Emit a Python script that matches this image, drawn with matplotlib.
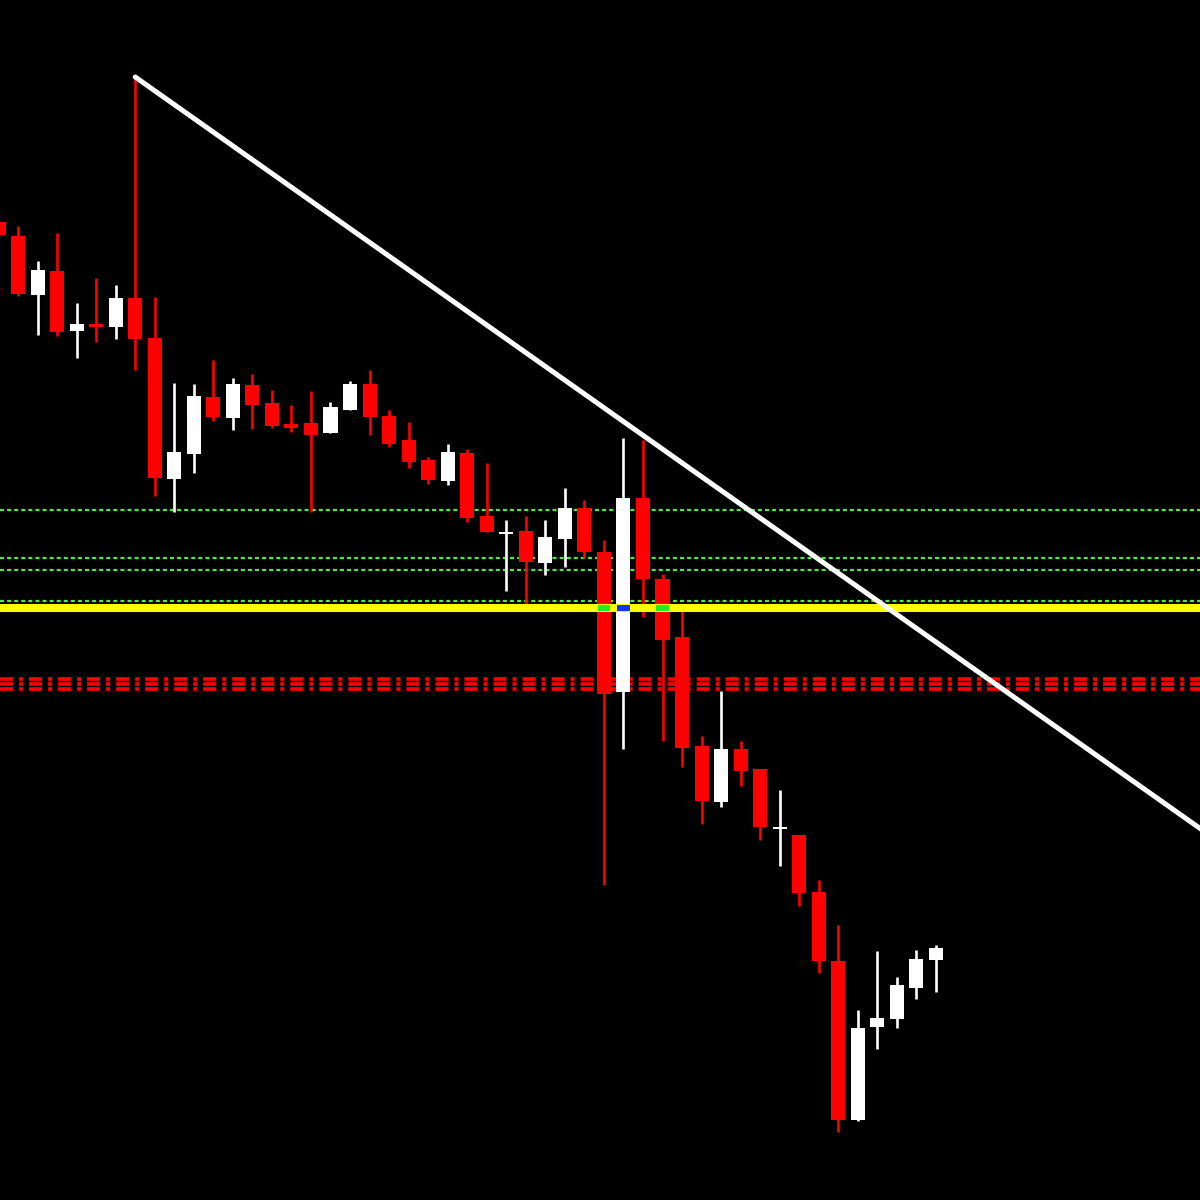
import numpy as np
import matplotlib
matplotlib.use("Agg")
import matplotlib.pyplot as plt

plt.rcParams['lines.scale_dashes'] = False

# OHLC per candle (index -1 is the partial candle at the left edge)
idx = list(range(-1, 48))
opens = [978, 964, 905, 929, 869, 876, 873, 902, 862, 721, 746, 803, 782, 815, 797, 776, 777,
         767, 790, 816, 784, 760, 740, 719, 747, 684, 666, 669, 637, 661, 692, 648, 508, 702,
         621, 563, 454, 398, 451, 431, 371, 365, 308, 239, 80, 173, 181, 212, 240]
highs = [986, 974, 939, 967, 897, 922, 915, 1123, 903, 817, 816, 840, 822, 826, 810, 795, 809,
         798, 819, 830, 790, 778, 743, 756, 751, 737, 680, 684, 680, 712, 700, 660, 762, 760,
         626, 590, 464, 509, 459, 431, 410, 365, 320, 275, 190, 249, 223, 250, 255]
lows = [962, 904, 865, 864, 842, 858, 861, 830, 704, 688, 727, 779, 770, 771, 772, 768, 688,
        767, 790, 765, 753, 732, 716, 715, 678, 668, 609, 595, 625, 633, 642, 315, 451, 583,
        459, 433, 376, 393, 414, 360, 334, 294, 227, 68, 79, 151, 172, 201, 208]
closes = [965, 906, 930, 868, 876, 873, 902, 861, 722, 748, 804, 783, 816, 795, 774, 772, 765,
          793, 816, 783, 756, 738, 720, 748, 682, 668, 668, 638, 663, 692, 648, 506, 702, 621,
          560, 452, 399, 451, 429, 373, 373, 307, 239, 80, 172, 182, 215, 241, 252]

# horizontal levels
green_levels = [690, 642, 630, 599]
yellow_level = 592
red_levels = [521, 516, 511]

# small markers sitting on the yellow line
marker_idx = [30, 31, 33]
marker_colors = ['#22ee22', '#1133ff', '#22ee22']

# trend line from the swing high
trend_x = [6, 61]
trend_y = [1123, 365]

fig = plt.figure(figsize=(12, 12), dpi=100, facecolor='black')
ax = fig.add_axes([0, 0, 1, 1])
ax.set_facecolor('black')

for lv in green_levels:
    ax.axhline(lv, color='#4ee84e', lw=1.6, linestyle=(0, (2.9, 2.2)), zorder=1)
for lv in red_levels:
    ax.axhline(lv, color='#ff0000', lw=2.6, linestyle=(0, (9.4, 4.3, 2.9, 4.3)), zorder=1)

o = np.array(opens)
c = np.array(closes)
x = np.array(idx)
cols = np.where(c >= o, '#ffffff', '#ff0000')
ax.vlines(x, lows, highs, colors=cols, lw=1.9, zorder=2)
body = np.maximum(np.abs(c - o), 2.5)
ax.bar(x, body, bottom=np.minimum(o, c), width=0.72, color=cols, lw=0, zorder=3)

ax.axhline(yellow_level, color='#ffff00', lw=5.8, zorder=4)
ax.bar(marker_idx, 6, bottom=yellow_level - 3, width=0.64, color=marker_colors, lw=0, zorder=5)

ax.plot(trend_x, trend_y, color='white', lw=3.6, solid_capstyle='round', zorder=6)

ax.set_xlim(-0.922, 60.52)
ax.set_ylim(0, 1200)
ax.axis('off')

fig.savefig('out.png', dpi=100, facecolor='black')
